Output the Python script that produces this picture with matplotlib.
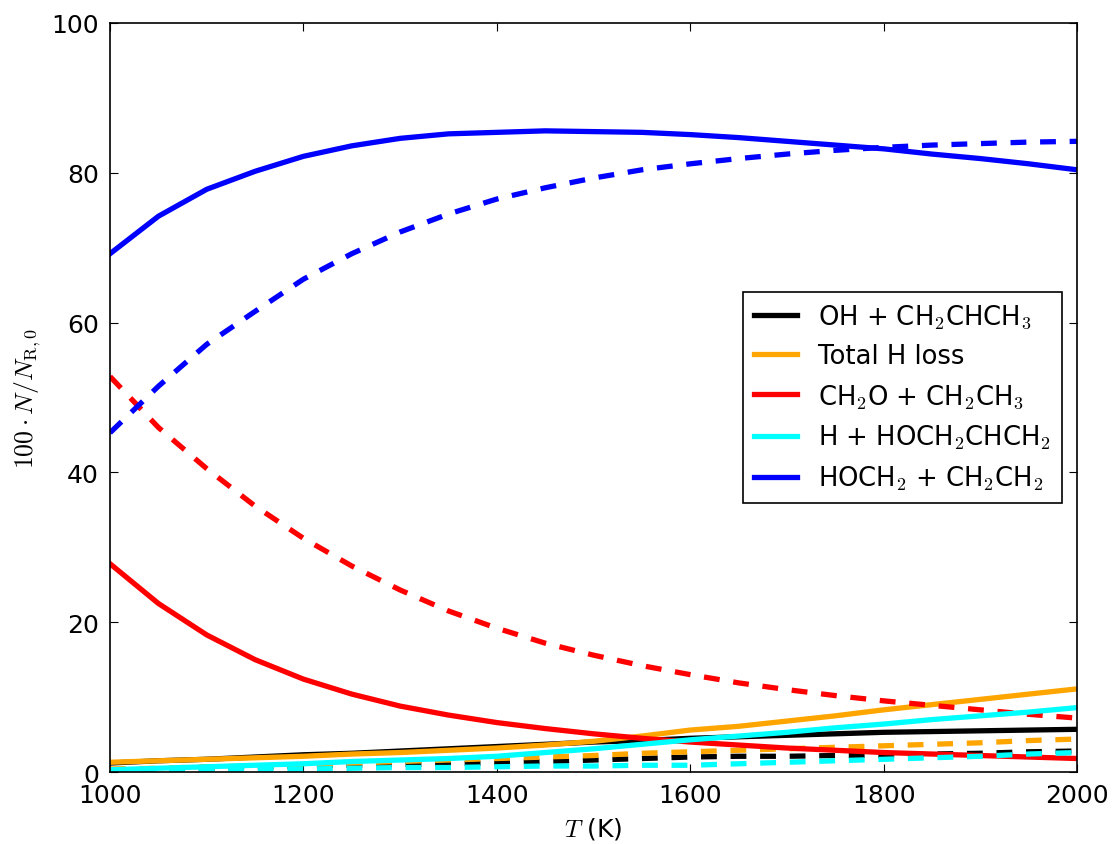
import numpy as np
import matplotlib
matplotlib.use("Agg")
import matplotlib.pyplot as plt

plt.rcParams['mathtext.fontset'] = 'cm'
plt.rcParams['font.family'] = ['DejaVu Sans']

T = np.arange(1000, 2001, 50)

# solid lines
oh_solid = [1.2, 1.5, 1.7, 2.0, 2.3, 2.5, 2.8, 3.1, 3.4, 3.7, 4.0, 4.2, 4.5, 4.7, 4.9, 5.1, 5.3, 5.4, 5.5, 5.6, 5.7]
hloss_solid = [1.3, 1.5, 1.7, 1.9, 2.1, 2.4, 2.6, 2.9, 3.2, 3.6, 4.1, 4.8, 5.6, 6.1, 6.8, 7.5, 8.3, 9.0, 9.7, 10.4, 11.1]
ch2o_solid = [27.8, 22.5, 18.3, 15.0, 12.4, 10.4, 8.8, 7.6, 6.6, 5.8, 5.1, 4.5, 4.0, 3.6, 3.2, 2.9, 2.6, 2.4, 2.2, 2.0, 1.8]
h_solid = [0.3, 0.5, 0.7, 0.9, 1.1, 1.4, 1.6, 1.8, 2.1, 2.6, 3.1, 3.7, 4.3, 4.8, 5.3, 5.9, 6.4, 7.0, 7.5, 8.0, 8.6]
hoch2_solid = [69.2, 74.2, 77.8, 80.2, 82.2, 83.6, 84.6, 85.2, 85.4, 85.6, 85.5, 85.4, 85.1, 84.7, 84.2, 83.7, 83.2, 82.5, 81.9, 81.2, 80.4]

# dashed lines
oh_dash = [0.3, 0.4, 0.5, 0.7, 0.8, 0.9, 1.0, 1.1, 1.2, 1.4, 1.6, 1.8, 2.0, 2.1, 2.1, 2.2, 2.2, 2.4, 2.5, 2.7, 2.8]
hloss_dash = [0.4, 0.5, 0.7, 0.8, 1.0, 1.2, 1.4, 1.6, 1.8, 2.0, 2.2, 2.5, 2.7, 2.9, 3.1, 3.3, 3.5, 3.7, 3.9, 4.2, 4.4]
ch2o_dash = [52.8, 46.0, 40.5, 35.5, 31.2, 27.5, 24.3, 21.5, 19.2, 17.2, 15.6, 14.2, 13.0, 11.9, 11.0, 10.2, 9.5, 8.9, 8.3, 7.7, 7.2]
h_dash = [0.1, 0.2, 0.3, 0.4, 0.4, 0.5, 0.6, 0.6, 0.7, 0.8, 0.8, 0.9, 0.9, 1.1, 1.3, 1.5, 1.7, 1.9, 2.1, 2.4, 2.6]
hoch2_dash = [45.3, 51.5, 57.1, 61.5, 65.8, 69.2, 72.1, 74.5, 76.5, 78.0, 79.3, 80.4, 81.2, 81.9, 82.5, 83.0, 83.4, 83.7, 83.9, 84.1, 84.2]

labels = [r'OH + CH$_2$CHCH$_3$', 'Total H loss', r'CH$_2$O + CH$_2$CH$_3$',
          r'H + HOCH$_2$CHCH$_2$', r'HOCH$_2$ + CH$_2$CH$_2$']
colors = ['black', 'orange', 'red', 'cyan', 'blue']
solids = [oh_solid, hloss_solid, ch2o_solid, h_solid, hoch2_solid]
dashes = [oh_dash, hloss_dash, ch2o_dash, h_dash, hoch2_dash]

fig = plt.figure(figsize=(11.15, 8.45), dpi=100)
ax = fig.add_axes([0.0987, 0.0852, 0.8673, 0.8864])

for s, d, c, lab in zip(solids, dashes, colors, labels):
    ax.plot(T, s, color=c, lw=3.8, label=lab)
    ax.plot(T, d, color=c, lw=3.8, ls='--', dashes=(3.0, 2.6))

ax.set_xlim(1000, 2000)
ax.set_ylim(0, 100)
ax.set_xticks([1000, 1200, 1400, 1600, 1800, 2000])
ax.set_yticks([0, 20, 40, 60, 80, 100])
ax.tick_params(direction='in', top=True, right=True, labelsize=18, length=6, pad=8)
for sp in ax.spines.values():
    sp.set_linewidth(1.2)

ax.set_xlabel(r'$T$ (K)', fontsize=18, labelpad=6)
ax.set_ylabel(r'$100\cdot N/N_{\mathrm{R},0}$', fontsize=18.5, labelpad=6)

leg = ax.legend(loc='center right', fontsize=18.6, handlelength=1.7, fancybox=False,
                framealpha=1, borderaxespad=0.6, labelspacing=0.5)
leg.get_frame().set_edgecolor('black')
leg.get_frame().set_linewidth(1.2)

fig.savefig('out.png', dpi=100)
